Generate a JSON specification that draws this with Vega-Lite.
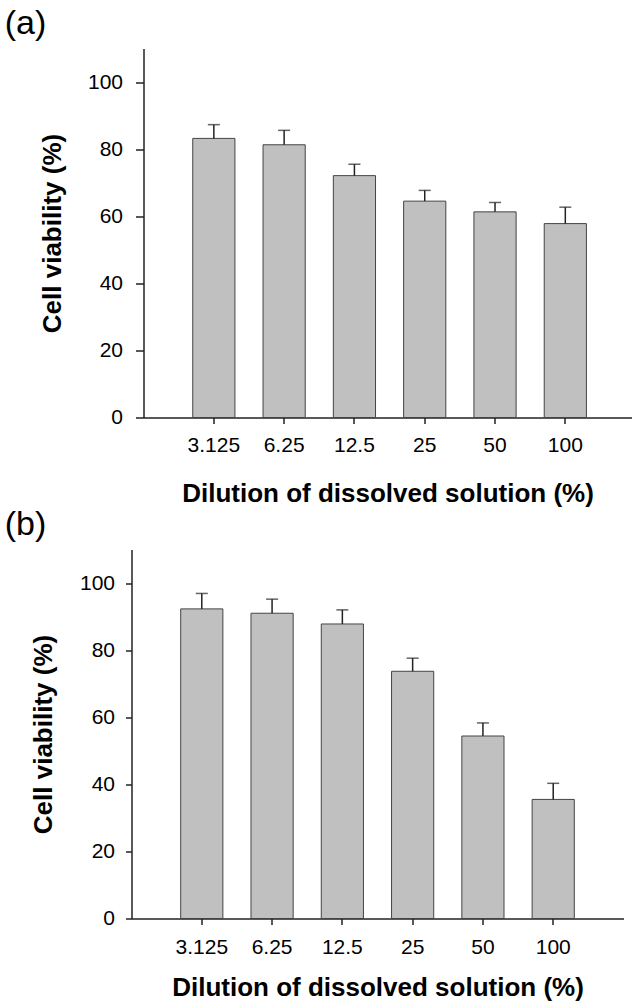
{
  "$schema": "https://vega.github.io/schema/vega-lite/v6.json",
  "background": "white",
  "padding": {"left": 4.5, "top": 6.5, "right": 0, "bottom": 0},
  "autosize": {"type": "pad"},
  "spacing": 1,
  "config": {
    "font": "Liberation Sans",
    "view": {"stroke": null},
    "axis": {
      "domainColor": "#222", "domainWidth": 1.5,
      "tickColor": "#222", "tickWidth": 1.5,
      "labelFont": "Liberation Sans", "labelFontSize": 21, "labelColor": "#000",
      "titleFont": "Liberation Sans", "titleFontSize": 26, "titleFontWeight": "bold", "titleColor": "#000",
      "grid": false
    },
    "title": {"font": "Liberation Sans", "fontSize": 34, "fontWeight": "normal", "color": "#000", "anchor": "start", "frame": "group", "baseline": "alphabetic"}
  },
  "vconcat": [
    {
      "title": {"text": "(a)", "dx": -126.8, "offset": 8},
      "width": 500,
      "height": 369,
      "data": {"values": [
        {"dilution": "3.125", "viability": 83.2, "upper": 87.3},
        {"dilution": "6.25", "viability": 81.3, "upper": 85.6},
        {"dilution": "12.5", "viability": 72.1, "upper": 75.5},
        {"dilution": "25", "viability": 64.5, "upper": 67.7},
        {"dilution": "50", "viability": 61.3, "upper": 64.1},
        {"dilution": "100", "viability": 57.8, "upper": 62.7}
      ]},
      "encoding": {
        "x": {"field": "dilution", "type": "nominal", "sort": null,
          "scale": {"range": [12, 500], "paddingInner": 0.4, "paddingOuter": 0.671, "align": 0.522},
          "axis": {"title": "Dilution of dissolved solution (%)", "labelAngle": 0, "tickSize": 6, "labelPadding": 10.5, "titlePadding": 25}}
      },
      "layer": [
        {"mark": {"type": "bar", "fill": "#c0c0c0", "stroke": "#444", "strokeWidth": 1},
         "encoding": {"y": {"field": "viability", "type": "quantitative",
           "scale": {"domain": [0, 110], "nice": false},
           "axis": {"title": "Cell viability (%)", "values": [0, 20, 40, 60, 80, 100], "offset": -12, "tickSize": 8, "labelPadding": 13, "titlePadding": 22}}}},
        {"mark": {"type": "rule", "color": "#222", "strokeWidth": 1.5},
         "encoding": {"y": {"field": "viability", "type": "quantitative"}, "y2": {"field": "upper"}}},
        {"mark": {"type": "tick", "color": "#222", "thickness": 1.5, "size": 12},
         "encoding": {"y": {"field": "upper", "type": "quantitative"}}}
      ]
    },
    {
      "title": {"text": "(b)", "dx": -126.8, "offset": 8},
      "width": 492,
      "height": 369,
      "data": {"values": [
        {"dilution": "3.125", "viability": 92.3, "upper": 96.9},
        {"dilution": "6.25", "viability": 91.0, "upper": 95.2},
        {"dilution": "12.5", "viability": 87.8, "upper": 92.0},
        {"dilution": "25", "viability": 73.7, "upper": 77.6},
        {"dilution": "50", "viability": 54.4, "upper": 58.3},
        {"dilution": "100", "viability": 35.5, "upper": 40.3}
      ]},
      "encoding": {
        "x": {"field": "dilution", "type": "nominal", "sort": null,
          "scale": {"paddingInner": 0.4, "paddingOuter": 0.7, "align": 0.5},
          "axis": {"title": "Dilution of dissolved solution (%)", "labelAngle": 0, "tickSize": 6, "labelPadding": 12, "titlePadding": 17}}
      },
      "layer": [
        {"mark": {"type": "bar", "fill": "#c0c0c0", "stroke": "#444", "strokeWidth": 1},
         "encoding": {"y": {"field": "viability", "type": "quantitative",
           "scale": {"domain": [0, 110], "nice": false},
           "axis": {"title": "Cell viability (%)", "values": [0, 20, 40, 60, 80, 100], "tickSize": 6, "labelPadding": 11, "titlePadding": 22.5}}}},
        {"mark": {"type": "rule", "color": "#222", "strokeWidth": 1.5},
         "encoding": {"y": {"field": "viability", "type": "quantitative"}, "y2": {"field": "upper"}}},
        {"mark": {"type": "tick", "color": "#222", "thickness": 1.5, "size": 12},
         "encoding": {"y": {"field": "upper", "type": "quantitative"}}}
      ]
    }
  ]
}
